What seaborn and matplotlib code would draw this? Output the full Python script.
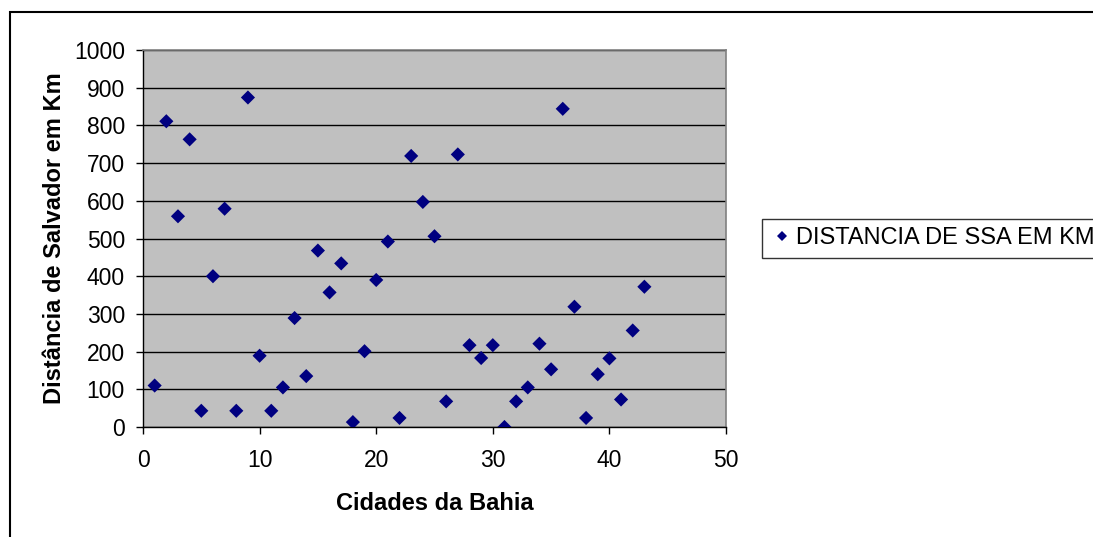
import matplotlib
matplotlib.use("Agg")
import matplotlib.pyplot as plt
from matplotlib.patches import Rectangle
import seaborn as sns
import pandas as pd

# Distance (km) from Salvador for each numbered city in Bahia
cidades = list(range(1, 44))
distancias = [110, 811, 559, 763, 43, 400, 579, 43, 874, 189,
              43, 105, 289, 135, 468, 357, 434, 13, 201, 390,
              492, 24, 719, 597, 506, 68, 723, 217, 183, 217,
              0, 68, 105, 221, 153, 844, 319, 24, 140, 182,
              73, 256, 372]
serie = "DISTANCIA DE SSA EM KM"

df = pd.DataFrame({"cidade": cidades, "distancia": distancias, "serie": serie})

sns.set_theme(style="white")
plt.rcParams["font.family"] = ["Liberation Sans", "DejaVu Sans"]
plt.rcParams["text.color"] = "black"
plt.rcParams["axes.labelcolor"] = "black"

W, H = 1093, 537
fig = plt.figure(figsize=(W / 100, H / 100), dpi=100)
ax = fig.add_axes([143 / W, 1 - 427 / H, (726 - 143) / W, (427 - 50) / H])
ax.set_facecolor("#C0C0C0")

sns.scatterplot(data=df, x="cidade", y="distancia", hue="serie",
                palette=["#000080"], marker="D", s=52, linewidth=0,
                ax=ax, zorder=3)

ax.set_xlim(0, 50)
ax.set_ylim(0, 1000)
ax.set_xticks(range(0, 51, 10))
ax.set_yticks(range(0, 1001, 100))
ax.yaxis.grid(True, color="black", linewidth=1.0)
ax.xaxis.grid(False)
ax.set_axisbelow(True)

for side in ("top", "right"):
    ax.spines[side].set_color("#808080")
    ax.spines[side].set_linewidth(1.2)
for side in ("left", "bottom"):
    ax.spines[side].set_color("black")
    ax.spines[side].set_linewidth(1.0)

ax.tick_params(axis="both", direction="out", length=5, width=1,
               color="black", labelsize=16.5, labelcolor="black",
               left=True, bottom=True)
ax.tick_params(axis="x", pad=11)
ax.tick_params(axis="y", pad=8)

ax.set_xlabel("Cidades da Bahia", fontsize=17, fontweight="bold",
              labelpad=14, color="black")
ax.set_ylabel("Distância de Salvador em Km", fontsize=17, fontweight="bold",
              labelpad=6, color="black")

handles, labels = ax.get_legend_handles_labels()
if ax.legend_:
    ax.legend_.remove()
leg = fig.legend(handles, labels, loc="center left",
                 bbox_to_anchor=(762 / W, 1 - 238.5 / H),
                 fontsize=17, frameon=True, fancybox=False,
                 handletextpad=0.1, handlelength=1.0, borderpad=0.35,
                 borderaxespad=0, markerscale=0.7)
leg.get_frame().set_edgecolor("black")
leg.get_frame().set_linewidth(1.0)
for t in leg.get_texts():
    t.set_color("black")

# Outer chart border
fig.add_artist(Rectangle((10 / W, -0.05), 1.1, 1 - 12 / H + 0.05,
                         transform=fig.transFigure, fill=False,
                         edgecolor="black", linewidth=1.5, clip_on=False))

fig.savefig("out.png", dpi=100)
